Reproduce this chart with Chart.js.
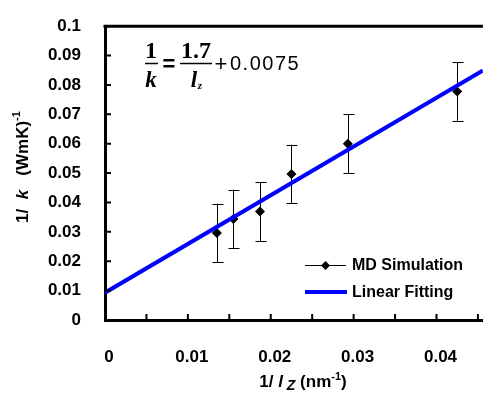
<!DOCTYPE html>
<html>
<head>
<meta charset="utf-8">
<script src="https://cdn.jsdelivr.net/npm/chart.js@4"></script>
<style>
html,body{margin:0;padding:0;background:#fff;}
#wrap{width:497px;height:396px;position:relative;}
</style>
</head>
<body>
<div id="wrap"><canvas id="c" width="497" height="396"></canvas></div>
<script>
// ---- data ----
const mdX = [0.0135, 0.0155, 0.0187, 0.0225, 0.0293, 0.0425];
const mdY = [0.0296, 0.0344, 0.0369, 0.0497, 0.0600, 0.0778];
const mdErr = [0.0100, 0.0100, 0.0100, 0.0100, 0.0100, 0.0100];
const fitX = [0, 0.0456];
const fitY = [0.0093, 0.0849];
const xTickValues = [0, 0.005, 0.01, 0.015, 0.02, 0.025, 0.03, 0.035, 0.04, 0.045];
const xTickLabels = ['0', '', '0.01', '', '0.02', '', '0.03', '', '0.04', ''];
const yTickValues = [0, 0.01, 0.02, 0.03, 0.04, 0.05, 0.06, 0.07, 0.08, 0.09, 0.1];
const yTickLabels = ['0', '0.01', '0.02', '0.03', '0.04', '0.05', '0.06', '0.07', '0.08', '0.09', '0.1'];
const seriesNames = ['MD Simulation', 'Linear Fitting'];

const SANS = 'Arial, "Liberation Sans", sans-serif';
const SERIF = '"Times New Roman", "Liberation Serif", serif';

function drawRuns(ctx, runs, x, y) {
  let cx = x;
  for (const r of runs) {
    ctx.font = r.font;
    ctx.fillText(r.t, cx, y + (r.dy || 0));
    cx += ctx.measureText(r.t).width;
  }
  return cx - x;
}
function runsWidth(ctx, runs) {
  let w = 0;
  for (const r of runs) { ctx.font = r.font; w += ctx.measureText(r.t).width; }
  return w;
}

const custom = {
  id: 'custom',
  beforeDatasetsDraw(chart) {
    const ctx = chart.ctx, xs = chart.scales.x, ys = chart.scales.y;
    ctx.save();
    ctx.strokeStyle = '#000';
    ctx.lineWidth = 1;
    for (let i = 0; i < mdX.length; i++) {
      const px = Math.round(xs.getPixelForValue(mdX[i])) + 0.5;
      const pt = ys.getPixelForValue(mdY[i] + mdErr[i]);
      const pb = ys.getPixelForValue(mdY[i] - mdErr[i]);
      ctx.beginPath();
      ctx.moveTo(px, pt); ctx.lineTo(px, pb);
      ctx.moveTo(px - 5, Math.round(pt) + 0.5); ctx.lineTo(px + 6, Math.round(pt) + 0.5);
      ctx.moveTo(px - 5, Math.round(pb) + 0.5); ctx.lineTo(px + 6, Math.round(pb) + 0.5);
      ctx.stroke();
    }
    ctx.restore();
  },
  afterDraw(chart) {
    const ctx = chart.ctx, xs = chart.scales.x, ys = chart.scales.y, a = chart.chartArea;
    ctx.save();
    // top border
    ctx.strokeStyle = '#000';
    ctx.lineWidth = 3;
    ctx.beginPath();
    ctx.moveTo(a.left - 1.5, a.top); ctx.lineTo(a.right, a.top);
    ctx.stroke();
    // inward tick marks
    ctx.lineWidth = 2;
    ctx.beginPath();
    for (const v of xTickValues) {
      const px = xs.getPixelForValue(v);
      ctx.moveTo(px, a.bottom); ctx.lineTo(px, a.bottom - 6);
    }
    for (const v of yTickValues) {
      const py = ys.getPixelForValue(v);
      ctx.moveTo(a.left, py); ctx.lineTo(a.left + 6, py);
    }
    ctx.stroke();

    // legend
    ctx.fillStyle = '#000';
    ctx.strokeStyle = '#000';
    ctx.lineWidth = 1;
    ctx.beginPath(); ctx.moveTo(305, 265.5); ctx.lineTo(346, 265.5); ctx.stroke();
    ctx.beginPath();
    ctx.moveTo(325.5, 261); ctx.lineTo(330, 265.5); ctx.lineTo(325.5, 270); ctx.lineTo(321, 265.5); ctx.closePath();
    ctx.fill();
    ctx.strokeStyle = '#0000FF';
    ctx.lineWidth = 4;
    ctx.beginPath(); ctx.moveTo(305, 292); ctx.lineTo(347, 292); ctx.stroke();
    ctx.fillStyle = '#000';
    ctx.font = 'bold 16px ' + SANS;
    ctx.textBaseline = 'middle';
    ctx.textAlign = 'left';
    ctx.fillText(seriesNames[0], 352, 266);
    ctx.fillText(seriesNames[1], 352, 293);

    // equation
    ctx.textBaseline = 'alphabetic';
    ctx.textAlign = 'center';
    ctx.font = 'bold 24px ' + SERIF;
    ctx.fillText('1', 151, 58);
    ctx.fillText('1.7', 196, 58);
    ctx.font = 'italic bold 23px ' + SERIF;
    ctx.fillText('k', 151, 87);
    ctx.fillText('l', 194, 87);
    ctx.font = 'italic bold 11px ' + SERIF;
    ctx.fillText('z', 200, 89);
    ctx.lineWidth = 1.5;
    ctx.strokeStyle = '#000';
    ctx.beginPath();
    ctx.moveTo(145, 63.5); ctx.lineTo(158, 63.5);
    ctx.moveTo(180, 63.5); ctx.lineTo(212, 63.5);
    ctx.stroke();
    ctx.font = 'bold 22px ' + SANS;
    ctx.fillText('=', 169, 71);
    ctx.font = '22px ' + SANS;
    ctx.fillText('+', 221, 71);
    ctx.textAlign = 'left';
    ctx.font = '20px ' + SANS;
    if ('letterSpacing' in ctx) ctx.letterSpacing = '1.5px';
    ctx.fillText('0.0075', 230, 70);
    if ('letterSpacing' in ctx) ctx.letterSpacing = '0px';

    // x axis title
    const B = 'bold 17px ' + SANS, BI = 'italic bold 17px ' + SANS;
    const xRuns = [
      {t: '1/ ', font: B}, {t: 'l', font: BI}, {t: ' Z', font: 'italic bold 14px ' + SANS, dy: 3},
      {t: ' (nm', font: B}, {t: '-1', font: 'bold 11px ' + SANS, dy: -7}, {t: ')', font: B}
    ];
    ctx.textAlign = 'left';
    const xw = runsWidth(ctx, xRuns);
    drawRuns(ctx, xRuns, 303 - xw / 2, 387);

    // y axis title
    const yRuns = [
      {t: '1/  ', font: 'bold 17px ' + SANS}, {t: 'k', font: 'italic bold 17px ' + SANS},
      {t: '   (WmK)', font: 'bold 17px ' + SANS}, {t: '-1', font: 'bold 11px ' + SANS, dy: -8}
    ];
    const yw = runsWidth(ctx, yRuns);
    ctx.translate(28, 167);
    ctx.rotate(-Math.PI / 2);
    drawRuns(ctx, yRuns, -yw / 2, 0);
    ctx.restore();
  }
};

new Chart(document.getElementById('c'), {
  type: 'scatter',
  data: {
    datasets: [
      {
        label: seriesNames[1],
        data: fitX.map((x, i) => ({x, y: fitY[i]})),
        showLine: true,
        borderColor: '#0000FF',
        borderWidth: 4,
        pointRadius: 0,
        fill: false,
        order: 0
      },
      {
        label: seriesNames[0],
        data: mdX.map((x, i) => ({x, y: mdY[i]})),
        showLine: false,
        pointStyle: 'rectRot',
        pointRadius: 5,
        pointBackgroundColor: '#000',
        pointBorderColor: '#000',
        pointBorderWidth: 0,
        order: 1
      }
    ]
  },
  plugins: [custom],
  options: {
    responsive: false,
    animation: false,
    events: [],
    layout: {padding: {top: 13, right: 0, left: 0, bottom: 0}},
    plugins: {legend: {display: false}, tooltip: {enabled: false}},
    scales: {
      x: {
        type: 'linear',
        min: 0, max: 0.0456,
        afterFit(s) { s.height = 76; },
        afterBuildTicks(s) { s.ticks = xTickValues.map(v => ({value: v})); },
        grid: {display: false},
        border: {display: true, color: '#000', width: 3},
        ticks: {
          autoSkip: false, maxRotation: 0,
          padding: 19,
          labelOffset: 4,
          color: '#000',
          font: {family: SANS, size: 17, weight: 'bold'},
          callback: (v, i) => xTickLabels[i]
        }
      },
      y: {
        type: 'linear',
        min: 0, max: 0.1,
        afterFit(s) { s.width = 105; },
        afterBuildTicks(s) { s.ticks = yTickValues.map(v => ({value: v})); },
        grid: {display: false},
        border: {display: true, color: '#000', width: 3},
        ticks: {
          autoSkip: false,
          padding: 16,
          color: '#000',
          font: {family: SANS, size: 17, weight: 'bold'},
          callback: (v, i) => yTickLabels[i]
        }
      }
    }
  }
});
</script>
</body>
</html>
